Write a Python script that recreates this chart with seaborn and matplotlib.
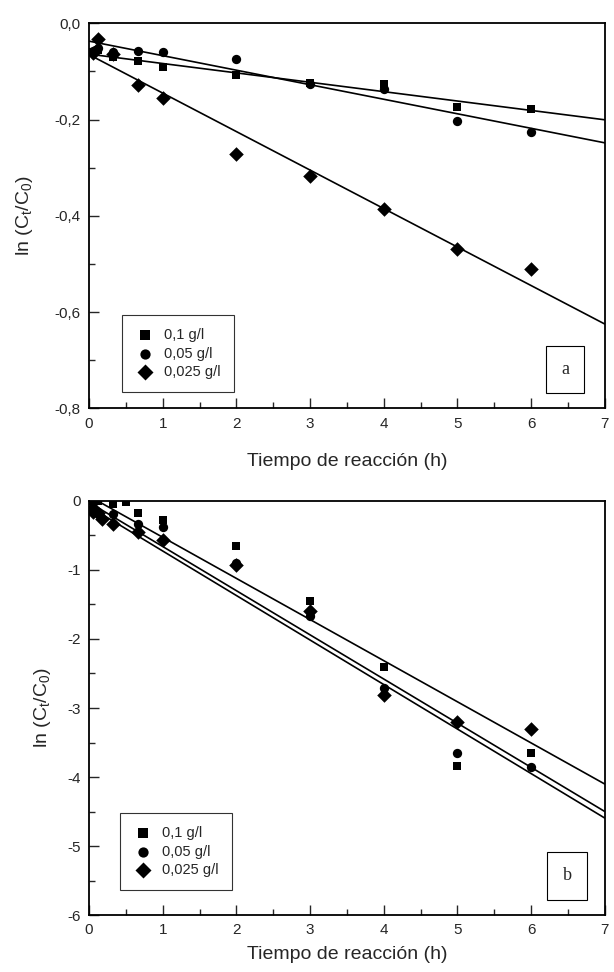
import numpy as np
import pandas as pd
import matplotlib
matplotlib.use('Agg')
import matplotlib.pyplot as plt
import seaborn as sns
from matplotlib.ticker import MultipleLocator

# datos: ln(Ct/C0) frente al tiempo (h)
conc_labels = ['0,1 g/l', '0,05 g/l', '0,025 g/l']

# panel a
t_a = [0.05, 0.12, 0.33, 0.67, 1, 2, 3, 4, 5, 6]
sq_a = [-0.060, -0.055, -0.069, -0.079, -0.091, -0.107, -0.124, -0.127, -0.173, -0.178]
ci_a = [-0.057, -0.052, -0.060, -0.057, -0.060, -0.075, -0.127, -0.136, -0.203, -0.226]
di_a = [-0.062, -0.032, -0.064, -0.129, -0.155, -0.271, -0.318, -0.385, -0.470, -0.511]
# ajustes lineales (ordenada, pendiente)
fit_a_b0 = [-0.064, -0.037, -0.065]
fit_a_k = [-0.0195, -0.0302, -0.080]

# panel b
t_sq_b = [0.05, 0.12, 0.33, 0.5, 0.67, 1, 2, 3, 4, 5, 6]
sq_b = [0.0, 0.0, -0.04, -0.01, -0.17, -0.28, -0.65, -1.45, -2.41, -3.84, -3.65]
t_ci_b = [0.05, 0.12, 0.33, 0.67, 1, 2, 3, 4, 5, 6]
ci_b = [-0.09, -0.16, -0.19, -0.33, -0.38, -0.90, -1.67, -2.71, -3.65, -3.86]
t_di_b = [0.05, 0.12, 0.18, 0.33, 0.67, 1, 2, 3, 4, 5, 6]
di_b = [-0.16, -0.18, -0.26, -0.33, -0.45, -0.57, -0.93, -1.60, -2.81, -3.20, -3.30]
fit_b_b0 = [0.07, -0.02, -0.08]
fit_b_k = [-0.596, -0.640, -0.645]

yticks_a = [0.0, -0.2, -0.4, -0.6, -0.8]
ylabels_a = ['0,0', '-0,2', '-0,4', '-0,6', '-0,8']
yticks_b = [0, -1, -2, -3, -4, -5, -6]
ylabels_b = ['0', '-1', '-2', '-3', '-4', '-5', '-6']
xticks = [0, 1, 2, 3, 4, 5, 6, 7]

sns.set_style('white')
plt.rcParams['font.family'] = ['Liberation Sans', 'DejaVu Sans']
plt.rcParams['mathtext.default'] = 'regular'

markers = ['s', 'o', 'D']
msizes = [38, 45, 55]


def draw_panel(ax, series, b0, k, yticks, ylabels, ylim, yminor, letter, legend_box):
    for (t, y), m, s, lab in zip(series, markers, msizes, conc_labels):
        df = pd.DataFrame({'t': t, 'y': y})
        sns.scatterplot(data=df, x='t', y='y', marker=m, s=s, color='black',
                        edgecolor='black', linewidth=0, ax=ax, label=lab, zorder=3)
    tt = np.array([0, 7])
    for a0, kk in zip(b0, k):
        sns.lineplot(x=tt, y=a0 + kk * tt, color='black', lw=1.2, ax=ax, zorder=2)

    ax.set_xlim(0, 7)
    ax.set_ylim(*ylim)
    ax.set_xticks(xticks)
    ax.set_xticklabels([str(v) for v in xticks])
    ax.set_yticks(yticks)
    ax.set_yticklabels(ylabels)
    ax.xaxis.set_minor_locator(MultipleLocator(0.5))
    ax.yaxis.set_minor_locator(MultipleLocator(yminor))
    ax.tick_params(which='both', direction='in', bottom=True, left=True,
                   top=False, right=False, labelsize=11, width=1)
    ax.tick_params(which='major', length=7, pad=6)
    ax.tick_params(which='minor', length=4)
    for sp in ax.spines.values():
        sp.set_color('black')
        sp.set_linewidth(1.3)

    ax.set_xlabel('Tiempo de reacción (h)', fontsize=14)
    ax.set_ylabel('ln (C$_t$/C$_0$)', fontsize=14)

    leg = ax.legend(loc='upper left', bbox_to_anchor=legend_box, frameon=True,
                    fancybox=False, fontsize=10.5, handletextpad=0.7,
                    borderpad=0.9, labelspacing=0.3, handlelength=1.3,
                    borderaxespad=0, markerscale=1.1)
    leg.get_frame().set_edgecolor('black')
    leg.get_frame().set_linewidth(0.8)

    ax.text(letter[1], letter[2], letter[0], transform=ax.transAxes,
            ha='center', va='center', fontsize=13, family='Liberation Serif',
            bbox=dict(boxstyle='square,pad=0.85', fc='white', ec='black', lw=0.8))


fig = plt.figure(figsize=(6.14, 9.72), dpi=100)
ax_a = fig.add_axes([0.145, 0.580, 0.840, 0.396])
ax_b = fig.add_axes([0.145, 0.0586, 0.840, 0.426])

draw_panel(ax_a, [(t_a, sq_a), (t_a, ci_a), (t_a, di_a)], fit_a_b0, fit_a_k,
           yticks_a, ylabels_a, (-0.8, 0.0), 0.1, ('a', 0.923, 0.101),
           (0.064, 0.242))
draw_panel(ax_b, [(t_sq_b, sq_b), (t_ci_b, ci_b), (t_di_b, di_b)], fit_b_b0, fit_b_k,
           yticks_b, ylabels_b, (-6, 0), 0.5, ('b', 0.927, 0.095),
           (0.06, 0.246))

ax_a.xaxis.labelpad = 16
ax_b.xaxis.labelpad = 6
ax_a.yaxis.labelpad = 14
ax_b.yaxis.labelpad = 10

fig.savefig('out.png', dpi=100)
